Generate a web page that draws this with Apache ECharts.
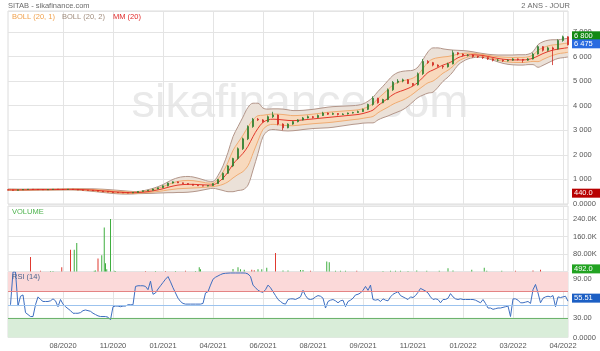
<!DOCTYPE html>
<html><head><meta charset="utf-8">
<script src="https://cdn.jsdelivr.net/npm/echarts@6/dist/echarts.min.js"></script>
<style>html,body{margin:0;padding:0;background:#fff}#c{width:600px;height:351px}</style>
</head><body><div id="c"></div>
<script>
const tickLabels = ['08/2020','11/2020','01/2021','04/2021','06/2021','08/2021','09/2021','11/2021','01/2022','03/2022','04/2022'];

const closes = [570,560,575,590,600,590,585,580,590,600, 595,590,600,590,570,560,555,540,520,500, 485,470,460,455,450,470,510,540,560,610, 660,740,850,900,860,830,800,760,740,730, 750,830,1000,1250,1550,1850,2250,2650,3150,3450, 3420,3350,3550,3620,3250,3100,3250,3350,3420,3500, 3550,3520,3600,3700,3650,3680,3640,3660,3700,3720, 3760,3850,4050,4300,4120,4250,4650,4950,5000,5050, 4900,4850,5300,5800,5750,5650,5600,5580,5700,6150, 6100,6050,6060,6000,5980,5950,5900,5850,5850,5820, 5850,5900,5880,5850,5900,6100,6400,6250,6350,6300, 6650,6800,6475];
const opens = [575,570,560,575,590,600,590,585,580,590, 600,595,590,600,590,570,560,555,540,520, 500,485,470,460,455,450,470,510,540,560, 610,660,740,850,900,860,830,800,760,740, 730,750,830,1000,1250,1550,1850,2250,2650,3150, 3450,3420,3350,3550,3620,3250,3100,3250,3350,3420, 3500,3550,3520,3600,3700,3650,3680,3640,3660,3700, 3720,3760,3850,4050,4300,4120,4250,4650,4950,5000, 5050,4900,4850,5300,5800,5750,5650,5600,5580,5700, 6150,6100,6050,6060,6000,5980,5950,5900,5850,5850, 5820,5850,5900,5880,5850,5900,6100,6400,6250,6350, 6300,6650,6800];
const lows = [555,550,555,570,585,585,580,575,575,585, 590,585,585,585,565,555,550,535,515,495, 480,465,455,450,440,445,465,500,530,550, 600,650,720,830,850,820,790,750,730,720, 720,740,820,980,1220,1500,1800,2200,2600,3100, 3380,3300,3320,3500,3200,3000,3080,3220,3320,3400, 3480,3480,3500,3580,3620,3620,3600,3620,3640,3680, 3700,3740,3820,4000,4080,4100,4220,4600,4900,4950, 4880,4800,4820,5250,5700,5600,5560,5500,5550,5680, 6050,6000,6000,5950,5940,5900,5860,5800,5800,5780, 5800,5830,5840,5750,5820,5880,6080,6200,6200,5650, 6280,6600,6450];
const highs = [585,575,580,595,610,605,595,590,595,605, 605,600,605,605,595,575,565,560,545,525, 505,490,475,465,460,475,515,545,565,620, 670,760,870,920,910,870,840,810,770,750, 760,840,1020,1280,1580,1880,2300,2700,3200,3500, 3500,3450,3600,3750,3640,3280,3280,3380,3450,3540, 3600,3580,3640,3750,3720,3720,3700,3690,3720,3750, 3800,3880,4080,4380,4320,4280,4700,5000,5080,5100, 5080,4920,5350,5900,5850,5780,5680,5640,5750,6250, 6180,6120,6100,6080,6030,6000,5970,5920,5900,5880, 5880,5930,5920,5900,5940,6150,6450,6420,6400,6400, 6700,6850,6820];

const mm20 = [580,578,577,578,580,583,586,587,586,588, 590,592,594,595,592,585,575,565,550,535, 518,500,485,472,463,458,465,480,505,535, 575,620,680,730,770,790,800,800,790,780, 770,780,880,1050,1300,1620,1850,2060,2350,2740, 3080,3320,3420,3450,3440,3420,3400,3390,3400,3420, 3440,3460,3480,3500,3520,3540,3560,3580,3600,3620, 3640,3680,3740,3820,4000,4150,4300,4450,4550,4620, 4700,4800,4950,5150,5350,5450,5550,5650,5720,5820, 5950,6020,6060,6070,6060,6040,6000,5960,5920,5890, 5870,5860,5860,5860,5880,5930,6020,6120,6200,6260, 6300,6330,6360];
const boll2Up = [610,608,605,604,604,607,610,609,608,610, 612,614,616,619,622,621,619,617,610,601, 588,572,557,540,523,508,509,536,581,635, 705,790,900,1000,1070,1110,1120,1100,1050,990, 930,920,1160,1550,2100,2740,3150,3540,3930,4100, 4100,3900,3860,3870,3870,3860,3830,3800,3800,3810, 3830,3850,3880,3910,3940,3960,3970,3980,3990,4000, 4020,4070,4180,4340,4580,4790,5020,5230,5350,5400, 5420,5440,5570,5870,6190,6350,6350,6310,6280,6260, 6250,6240,6220,6190,6150,6120,6090,6070,6060,6060, 6060,6060,6070,6070,6090,6190,6480,6600,6660,6680, 6680,6710,6740];
const boll1Up = [595,593,591,591,592,595,598,598,597,599, 601,603,605,607,607,603,597,591,580,568, 553,536,521,506,493,483,487,508,543,585, 640,705,790,865,920,950,960,950,920,885, 850,850,1020,1300,1700,2180,2500,2800,3140,3420, 3590,3610,3640,3660,3655,3640,3615,3595,3600,3615, 3635,3655,3680,3705,3730,3750,3765,3780,3795,3810, 3830,3875,3960,4080,4290,4470,4660,4840,4950,5010, 5060,5120,5260,5510,5770,5900,5950,5980,6000,6040, 6100,6130,6140,6130,6105,6080,6045,6015,5990,5975, 5965,5960,5965,5965,5985,6060,6250,6360,6430,6470, 6490,6520,6550];
const boll1Low = [565,563,563,565,568,571,574,576,575,577, 579,581,583,583,577,567,553,539,520,502, 483,464,449,438,433,433,443,452,467,485, 510,535,570,595,620,630,640,650,660,675, 690,710,740,800,900,1060,1200,1320,1560,2060, 2570,3030,3200,3240,3225,3200,3185,3185,3200,3225, 3245,3265,3280,3295,3310,3330,3355,3380,3405,3430, 3450,3485,3520,3560,3710,3830,3940,4060,4150,4230, 4340,4480,4640,4790,4930,5000,5150,5320,5440,5600, 5800,5910,5980,6010,6015,6000,5955,5905,5850,5805, 5775,5760,5755,5755,5775,5800,5790,5880,5970,6050, 6110,6140,6170];
const boll2Low = [550,548,549,552,556,559,562,565,564,566, 568,570,572,571,562,549,531,513,490,469, 448,428,413,404,403,408,421,424,429,435, 445,450,460,460,470,470,480,500,530,570, 610,640,600,550,500,500,550,580,770,1380, 2060,2740,2980,3030,3010,2980,2970,2980,3000,3030, 3050,3070,3080,3090,3100,3120,3150,3180,3210,3240, 3260,3290,3300,3300,3420,3510,3580,3670,3750,3840, 3980,4160,4330,4430,4510,4550,4750,4990,5160,5380, 5650,5800,5900,5950,5970,5960,5910,5850,5780,5720, 5680,5660,5650,5650,5670,5670,5560,5640,5740,5840, 5920,5950,5980];

const volDayCount = 449;
const volDays = [18,26,34,36,43, 50,53,55,69,70, 72,75,77,78,79, 82,85,86,110,118, 126,134,142,150,153, 154,180,184,186,189, 195,197,200,203,207, 214,220,224,234,236, 242,255,257,262,266, 270,279,300,306,310, 314,320,327,335,345, 352,356,371,381,383, 395,406,420,426,448];
const volValues = [66000,3000,2000,2000,20000, 100000,100000,131000,4000,5000, 59000,74000,202000,38000,10000, 240000,3000,2000,2000,2000, 2000,2000,3000,2000,20000, 10000,12000,20000,10000,8000, 8000,6000,10000,10000,17000, 85000,5000,5000,7000,7000, 3000,46000,42000,4000,3000, 3000,4000,2000,3000,3000, 3000,2000,5000,3000,3000, 15000,5000,8000,17000,4000, 3000,4000,5000,8000,492];
const volUp = [0,0,1,1,0, 0,1,1,1,1, 0,1,1,1,1, 1,1,1,0,1, 0,1,0,1,1, 1,1,1,1,1, 0,0,1,1,1, 0,1,1,1,1, 0,1,1,1,1, 1,0,1,1,1, 1,1,1,1,1, 1,1,1,1,1, 1,0,0,0,1];

const rsi14 = [null,50,100,100,48,63,65,38,35,32,
32,50,62,58,55,55,55,56,59,56,
47,58,51,47,44,41,37,37,37,38,
41,42,41,40,37,35,33,32,32,32,
31,27,47,48,48,47,48,48,50,50,
50,78,79,79,79,78,73,86,66,68,
74,79,84,89,93,85,76,68,60,55,
52,51,51,51,51,51,51,51,52,68,
70,80,89,92,94,96,97.5,98,98.3,98.5,
98.5,98.5,98.5,98.5,98.5,98.3,97,93,80,76,
72,70,69,73,80,76,70,64,58,55,
52,51,58,59,59,58,60,62,72,64,
59,58,59,62,64,63,60,45,55,57,
58,56,53,56,57,47,55,57,60,65,
66,68,72,78,72,80,58,57,58,55,
59,57,56,62,66,68,70,64,62,60,
58,62,61,64,69,75,73,71,68,62,
58,59,58,53,58,58,60,67,62,59,
58,59,58,58,58,58,58,57,55,53,
58,52,45,45,43,44,45,45,46,47,
48,32,59,59,57,53,53,54,55,52,
73,81,68,53,60,62,63,62,64,47,
62,61,62,63,55.51];

const badgeHigh = 6800, badgeLast = 6475, badgeLow = 440, badgeVol = 492, badgeRsi = 55.51;

const FONT = '"Liberation Sans", Arial, sans-serif';
const GRID_C = '#e4e4e4';
const priceCats = closes.map((_, i) => String(i));
const volCats = Array.from({length: volDayCount}, (_, d) => String(d));
const rsiCats = rsi14.map((_, j) => ((j - 22) % 20 === 0 && j >= 22) ? tickLabels[(j - 22) / 20] : '');

const volData = volCats.map(() => '-');
volDays.forEach((d, k) => {
  volData[d] = {value: volValues[k], itemStyle: {color: volUp[k] ? '#3fae3f' : '#e03a30'}};
});

function xAx(grid, cats, iv, showLabel) {
  return {
    type: 'category', gridIndex: grid, data: cats, boundaryGap: false,
    axisLine: {show: false}, axisTick: {show: false},
    axisLabel: {show: showLabel, interval: iv, fontSize: 7.5, color: '#555', fontFamily: FONT, margin: 4},
    splitLine: {show: true, interval: iv, lineStyle: {color: GRID_C, width: 1}}
  };
}
function yAx(grid, min, max, interval, fmt) {
  return {
    type: 'value', gridIndex: grid, position: 'right', min, max, interval,
    axisLine: {show: false}, axisTick: {show: false},
    axisLabel: {fontSize: 7.5, color: '#555', fontFamily: FONT, margin: 5, formatter: fmt, padding: [0, 0, 5, 0], showMaxLabel: false},
    splitLine: {show: true, lineStyle: {color: GRID_C, width: 1}}
  };
}
const lineS = (data, color, z, extra) => Object.assign({
  type: 'line', xAxisIndex: 0, yAxisIndex: 0, data, symbol: 'none', smooth: 0.35,
  lineStyle: {color, width: 1}, z, silent: true
}, extra || {});

const option = {
  animation: false,
  backgroundColor: '#fff',
  grid: [
    {left: 8, top: 11, width: 560, height: 193, show: true, borderColor: '#dcdcdc', borderWidth: 1, outerBoundsMode: 'none'},
    {left: 8, top: 206, width: 560, height: 65.5, show: true, borderColor: '#dcdcdc', borderWidth: 1, outerBoundsMode: 'none'},
    {left: 8, top: 272, width: 560, height: 65.5, show: true, borderColor: '#dcdcdc', borderWidth: 1, outerBoundsMode: 'none'}
  ],
  xAxis: [
    xAx(0, priceCats, (i) => i >= 11 && (i - 11) % 10 === 0, false),
    xAx(1, volCats, (d) => d >= 44 && (d - 44) % 40 === 0, false),
    xAx(2, rsiCats, (j) => j >= 22 && (j - 22) % 20 === 0, true)
  ],
  yAxis: [
    yAx(0, 0, 7850, 1000, v => v === 0 ? '0.0000' : (v % 1000 === 0 ? (v / 1000) + ' 000' : '')),
    yAx(1, 0, 300000, 80000, v => (v === 0 || v % 80000 !== 0) ? '' : (v / 1000).toPrecision(4) + 'K'),
    yAx(2, 0, 100, 30, v => v === 0 ? '0.0000' : (v % 30 === 0 ? v.toFixed(2) : ''))
  ],
  series: [
    lineS(boll2Low, 'transparent', 1, {stack: 'b2', lineStyle: {width: 0}}),
    lineS(boll2Up.map((v, i) => v - boll2Low[i]), 'transparent', 1, {stack: 'b2', lineStyle: {width: 0}, areaStyle: {color: '#ebe1d8', opacity: 1}}),
    lineS(boll1Low, 'transparent', 1, {stack: 'b1', lineStyle: {width: 0}}),
    lineS(boll1Up.map((v, i) => v - boll1Low[i]), 'transparent', 1, {stack: 'b1', lineStyle: {width: 0}, areaStyle: {color: '#f8d9bd', opacity: 1}}),
    lineS(boll2Up, '#b3968a', 2),
    lineS(boll2Low, '#b3968a', 2),
    lineS(boll1Up, '#f0ac72', 2),
    lineS(boll1Low, '#f0ac72', 2),
    lineS(mm20, '#e3392c', 3),
    {
      type: 'candlestick', xAxisIndex: 0, yAxisIndex: 0, z: 5, silent: true,
      data: closes.map((c, i) => [opens[i], c, lows[i], highs[i]]),
      barWidth: 2,
      itemStyle: {color: '#3a8e3a', color0: '#dd3128', borderColor: '#2f7d2f', borderColor0: '#cf2a22', borderWidth: 0.8}
    },
    {type: 'bar', xAxisIndex: 1, yAxisIndex: 1, data: volData, barWidth: 1, silent: true, z: 3},
    {
      type: 'line', xAxisIndex: 2, yAxisIndex: 2, data: [], silent: true, z: 1,
      markArea: {silent: true, itemStyle: {opacity: 1}, data: [
        [{yAxis: 70, itemStyle: {color: '#fbd9d9'}}, {yAxis: 100}],
        [{yAxis: 0, itemStyle: {color: '#d9edd9'}}, {yAxis: 30}]
      ]},
      markLine: {silent: true, symbol: 'none', label: {show: false}, data: [
        {yAxis: 70, lineStyle: {color: '#e48484', width: 1, type: 'solid'}},
        {yAxis: 30, lineStyle: {color: '#6db36d', width: 1, type: 'solid'}},
        {yAxis: 50, lineStyle: {color: '#9cc3ee', width: 1, type: 'solid'}}
      ]}
    },
    {type: 'line', xAxisIndex: 2, yAxisIndex: 2, data: rsi14, symbol: 'none', silent: true, z: 4,
      lineStyle: {color: '#3d6ec0', width: 1}}
  ]
};

const chart = echarts.init(document.getElementById('c'), null, {renderer: 'canvas'});
chart.setOption(option);

function txt(text, x, y, color, size, align) {
  return {type: 'text', silent: true, z: 20, style: {text, x, y, fill: color, fontSize: size, fontFamily: FONT, align: align || 'left', verticalAlign: 'middle'}};
}
function badge(y, text, color) {
  return {type: 'group', silent: true, z: 30, children: [
    {type: 'rect', z: 30, shape: {x: 572, y: y - 4.5, width: 28, height: 9}, style: {fill: color}},
    {type: 'text', z: 31, style: {text, x: 574, y: y, fill: '#fff', fontSize: 7.5, fontFamily: FONT, verticalAlign: 'middle'}}
  ]};
}
const py = v => chart.convertToPixel({yAxisIndex: 0}, v);
const vy = v => chart.convertToPixel({yAxisIndex: 1}, v);
const ry = v => chart.convertToPixel({yAxisIndex: 2}, v);
const fmtSp = v => String(v).replace(/\B(?=(\d{3})+(?!\d))/g, ' ');

chart.setOption({graphic: [
  {type: 'text', silent: true, z: -1, style: {text: 'sikafinance.com', x: 300, y: 104, fill: '#e9e9e9', fontSize: 47, fontFamily: FONT, align: 'center', verticalAlign: 'middle'}},
  txt('SITAB - sikafinance.com', 8, 6, '#6a6a6a', 7.5),
  txt('2 ANS - JOUR', 570, 6, '#6a6a6a', 7.5, 'right'),
  txt('BOLL (20, 1)', 12, 17, '#f0a04b', 7.5),
  txt('BOLL (20, 2)', 62, 17, '#a08c7c', 7.5),
  txt('MM (20)', 113, 17, '#e02828', 7.5),
  txt('VOLUME', 12, 212, '#4db34d', 7.5),
  txt('RSI (14)', 12, 277, '#4a648e', 7.5),
  badge(py(badgeHigh) - 1, fmtSp(badgeHigh), '#138a13'),
  badge(py(badgeLast) - 1, fmtSp(badgeLast), '#2a6be0'),
  badge(py(badgeLow), badgeLow.toFixed(1), '#b80000'),
  badge(vy(badgeVol) - 2.5, badgeVol.toFixed(1), '#22a322'),
  badge(ry(badgeRsi) - 3, badgeRsi.toFixed(2), '#1c5fc4')
]});
</script>
</body></html>
